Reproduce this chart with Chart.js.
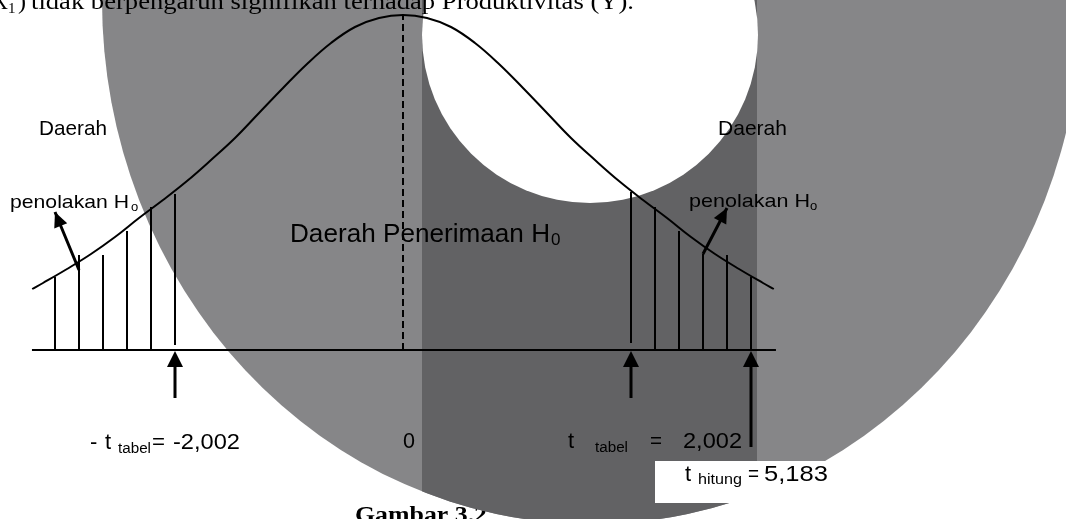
<!DOCTYPE html>
<html>
<head>
<meta charset="utf-8">
<title>Gambar 3.2 - Uji t</title>
<script src="https://cdn.jsdelivr.net/npm/chart.js@4.4.0/dist/chart.umd.min.js"></script>
<style>
  html, body { margin: 0; padding: 0; background: #fff; overflow: hidden; }
  canvas { display: block; }
</style>
</head>
<body>
<canvas id="tChart" width="1066" height="519"></canvas>
<script>
// curve of the t distribution (schematic units)
const curveX = [-15.45, -15, -14, -13, -12, -11, -10, -9, -8, -7, -6, -5, -4, -3, -2, -1, 0,
                1, 2, 3, 4, 5, 6, 7, 8, 9, 10, 11, 12, 13, 14, 15, 15.45];
const curveY = [6.1, 6.7, 8.1, 9.6, 11.3, 13.2, 15.0, 16.9, 19.0, 21.2, 23.7, 26.2, 28.6, 30.7, 32.3, 33.2, 33.5,
                33.2, 32.3, 30.7, 28.6, 26.2, 23.7, 21.2, 19.0, 16.9, 15.0, 13.2, 11.3, 9.6, 8.1, 6.7, 6.1];

// hatching of the two rejection areas
const hatchX = [-14.5, -13.5, -12.5, -11.5, -10.5, -9.5, 9.5, 10.5, 11.5, 12.5, 13.5, 14.5];
const hatchTop = [7.3, 9.5, 9.5, 11.9, 14.3, 15.6, 15.8, 14.3, 11.9, 9.6, 9.5, 7.3];
const hatchBottom = [0, 0, 0, 0, 0, 0.5, 0.7, 0, 0, 0, 0, 0];

// axis line and the dashed line at t = 0
const axisX = [-15.46, 15.54];
const centerX = 0;
const centerTop = 33.5;

// upward arrows under the axis (-t tabel, t tabel, t hitung)
const arrowX = [-9.5, 9.5, 14.5];
const arrowTip = [-0.1, -0.1, -0.1];
const arrowTail = [-4.8, -4.8, -9.7];

// the two pointers to "penolakan Ho"
const pointerX0 = [-13.5, 12.5];
const pointerY0 = [8.0, 9.6];
const pointerX1 = [-14.5, 13.5];
const pointerY1 = [13.8, 14.2];

const SANS = '"Liberation Sans", Arial, sans-serif';
const SERIF = '"Liberation Serif", "Times New Roman", serif';

// texts of the figure (x, y = left / baseline in px)
const labels = [
    { t: 'X', x: -8, y: 9, s: 24, f: SERIF, w: 16 },
    { t: '1', x: 8, y: 13, s: 15, f: SERIF },
    { t: ')', x: 18, y: 9, s: 24, f: SERIF, w: 8 },
    { t: 'tidak berpengaruh signifikan terhadap Produktivitas (Y).', x: 31, y: 9, s: 24, f: SERIF, w: 603 },
    { t: 'Daerah', x: 39, y: 135, s: 21, w: 68 },
    { t: 'Daerah', x: 718, y: 135, s: 21, w: 69 },
    { t: 'penolakan H', x: 10, y: 208, s: 19, w: 119 },
    { t: 'o', x: 131, y: 211, s: 13 },
    { t: 'penolakan H', x: 689, y: 207, s: 19, w: 121 },
    { t: 'o', x: 810, y: 210, s: 13 },
    { t: 'Daerah Penerimaan H', x: 290, y: 242, s: 25, w: 260 },
    { t: '0', x: 551, y: 245, s: 17 },
    { t: '-', x: 90, y: 449, s: 22 },
    { t: 't', x: 105, y: 449, s: 22 },
    { t: 'tabel', x: 118, y: 453, s: 14, w: 33 },
    { t: '=', x: 152, y: 449, s: 22, w: 13 },
    { t: '-2,002', x: 173, y: 449, s: 22, w: 67 },
    { t: '0', x: 403, y: 448, s: 22, w: 12 },
    { t: 't', x: 568, y: 448, s: 22 },
    { t: 'tabel', x: 595, y: 452, s: 14, w: 33 },
    { t: '=', x: 650, y: 448, s: 22, w: 12 },
    { t: '2,002', x: 683, y: 448, s: 22, w: 59 },
    { t: 't', x: 685, y: 481, s: 22 },
    { t: 'hitung', x: 698, y: 484, s: 14, w: 44 },
    { t: '=', x: 748, y: 481, s: 22, w: 11 },
    { t: '5,183', x: 764, y: 481, s: 22, w: 64 }
];

function drawText(ctx, lb) {
    ctx.font = (lb.b ? 'bold ' : '') + lb.s + 'px ' + (lb.f || SANS);
    ctx.fillStyle = '#000';
    ctx.textAlign = 'left';
    ctx.textBaseline = 'alphabetic';
    if (lb.w) {
        const nat = ctx.measureText(lb.t).width;
        ctx.save();
        ctx.translate(lb.x, lb.y);
        ctx.scale(lb.w / nat, 1);
        ctx.fillText(lb.t, 0, 0);
        ctx.restore();
    } else {
        ctx.fillText(lb.t, lb.x, lb.y);
    }
}

function arrowHead(ctx, x0, y0, x1, y1, len, half) {
    const a = Math.atan2(y1 - y0, x1 - x0);
    ctx.beginPath();
    ctx.moveTo(x1, y1);
    ctx.lineTo(x1 - len * Math.cos(a) + half * Math.sin(a), y1 - len * Math.sin(a) - half * Math.cos(a));
    ctx.lineTo(x1 - len * Math.cos(a) - half * Math.sin(a), y1 - len * Math.sin(a) + half * Math.cos(a));
    ctx.closePath();
    ctx.fill();
}

// gray shapes behind the figure + caption under them
const backdrop = {
    id: 'backdrop',
    beforeDraw(chart) {
        const ctx = chart.ctx;
        ctx.save();
        ctx.fillStyle = '#fff';
        ctx.fillRect(0, 0, chart.width, chart.height);

        drawText(ctx, { t: 'Gambar 3.2', x: 355, y: 522, s: 24, f: SERIF, b: true, w: 132 });

        ctx.beginPath();
        ctx.ellipse(592, 0, 490, 524, 0, 0, Math.PI * 2);
        ctx.fillStyle = '#868688';
        ctx.fill();

        ctx.save();
        ctx.clip();
        ctx.fillStyle = '#626264';
        ctx.fillRect(422, 0, 335, chart.height);
        ctx.restore();

        ctx.beginPath();
        ctx.arc(590, 35, 168, 0, Math.PI * 2);
        ctx.fillStyle = '#fff';
        ctx.fill();

        // white box of t hitung
        ctx.fillRect(655, 461, 190, 42);
        ctx.restore();
    },
    afterDatasetsDraw(chart) {
        const ctx = chart.ctx;
        const xs = chart.scales.x, ys = chart.scales.y;
        ctx.save();
        ctx.fillStyle = '#000';
        arrowX.forEach((x, i) => {
            const px = xs.getPixelForValue(x);
            arrowHead(ctx, px, ys.getPixelForValue(arrowTail[i]), px, ys.getPixelForValue(arrowTip[i]), 16, 8);
        });
        pointerX0.forEach((x, i) => {
            arrowHead(ctx, xs.getPixelForValue(x), ys.getPixelForValue(pointerY0[i]),
                xs.getPixelForValue(pointerX1[i]), ys.getPixelForValue(pointerY1[i]), 15, 7);
        });
        labels.forEach(lb => drawText(ctx, lb));
        ctx.restore();
    }
};

// line segments, split by null points
const hatchData = [];
hatchX.forEach((x, i) => {
    hatchData.push({ x: x, y: hatchBottom[i] }, { x: x, y: hatchTop[i] }, { x: x, y: null });
});
const arrowData = [];
arrowX.forEach((x, i) => {
    arrowData.push({ x: x, y: arrowTail[i] }, { x: x, y: arrowTip[i] - 1.2 }, { x: x, y: null });
});
const pointerData = [];
pointerX0.forEach((x, i) => {
    pointerData.push({ x: x, y: pointerY0[i] }, { x: pointerX1[i], y: pointerY1[i] }, { x: x, y: null });
});

const lineDefaults = { showLine: true, pointRadius: 0, borderColor: '#000', fill: false, spanGaps: false };

new Chart(document.getElementById('tChart'), {
    type: 'scatter',
    data: {
        datasets: [
            Object.assign({}, lineDefaults, {
                label: 'kurva',
                data: curveX.map((x, i) => ({ x: x, y: curveY[i] })),
                borderWidth: 2,
                tension: 0.4
            }),
            Object.assign({}, lineDefaults, {
                label: 'sumbu',
                data: axisX.map(x => ({ x: x, y: 0 })),
                borderWidth: 2
            }),
            Object.assign({}, lineDefaults, {
                label: 'nol',
                data: [{ x: centerX, y: 0 }, { x: centerX, y: centerTop }],
                borderWidth: 2,
                borderDash: [7, 4]
            }),
            Object.assign({}, lineDefaults, {
                label: 'arsir',
                data: hatchData,
                borderWidth: 2
            }),
            Object.assign({}, lineDefaults, {
                label: 'panah',
                data: arrowData,
                borderWidth: 3
            }),
            Object.assign({}, lineDefaults, {
                label: 'penunjuk',
                data: pointerData,
                borderWidth: 3
            })
        ]
    },
    options: {
        responsive: false,
        animation: false,
        devicePixelRatio: 1,
        layout: { padding: 0 },
        scales: {
            x: { type: 'linear', display: false, min: -16.7917, max: 27.625 },
            y: { type: 'linear', display: false, min: -16.9, max: 35 }
        },
        plugins: {
            legend: { display: false },
            tooltip: { enabled: false }
        }
    },
    plugins: [backdrop]
});
</script>
</body>
</html>
